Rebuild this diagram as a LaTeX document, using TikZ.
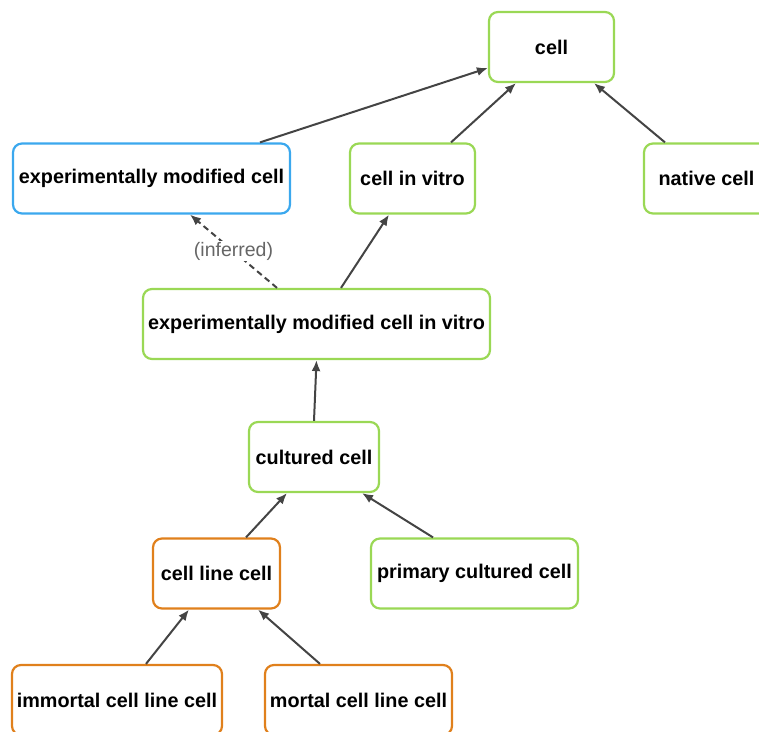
\documentclass[tikz,border=0pt]{standalone}
\usepackage{fontspec}
\setmainfont{Liberation Sans}
\usepackage{tikz}
\usetikzlibrary{arrows.meta}

\definecolor{termgreen}{HTML}{9AD855}
\definecolor{termblue}{HTML}{3BA8EE}
\definecolor{termorange}{HTML}{E0801C}
\definecolor{linkgray}{HTML}{444444}

\tikzset{
	term/.style={draw,rounded corners=9pt,line width=2.2pt,minimum height=70pt,
		inner sep=2pt,font=\fontsize{19.8}{22}\selectfont\bfseries,fill=white},
	green box/.style={term,draw=termgreen},
	blue box/.style={term,draw=termblue},
	orange box/.style={term,draw=termorange},
}

\begin{document}
\begin{tikzpicture}[x=1pt,y=-1pt,>/.tip={Latex[length=11pt,width=9pt]},
	every edge/.style={draw,linkgray,line width=2pt}]
	\useasboundingbox (0,0) rectangle (759,731);

	\draw (551.5,47) node (cell) [green box,minimum width=125] {cell};
	\draw (151.5,178.5) node (emc) [blue box,minimum width=277] {experimentally modified cell};
	\draw (412.5,178.5) node (civ) [green box,minimum width=125] {cell in vitro};
	\draw (706.5,178.5) node (native) [green box,minimum width=125] {native cell};
	\draw (316.5,324) node (emciv) [green box,minimum width=347] {experimentally modified cell in vitro};
	\draw (314,457) node (cultured) [green box,minimum width=130] {cultured cell};
	\draw (216.5,573.5) node (cellline) [orange box,minimum width=127] {cell line cell};
	\draw (474.5,573.5) node (primary) [green box,minimum width=207] {primary cultured cell};
	\draw (117,700) node (immortal) [orange box,minimum width=210] {immortal cell line cell};
	\draw (358.5,700) node (mortal) [orange box,minimum width=187] {mortal cell line cell};

	\path[->] ([xshift=108.5]emc.north) edge ([yshift=-21]cell.west);
	\path[->] ([xshift=38.5]civ.north) edge ([xshift=-35.5]cell.south);
	\path[->] ([xshift=-41.5]native.north) edge ([xshift=42.5]cell.south);
	\path[->] ([xshift=-39.5]emciv.north) edge [dash pattern=on 6pt off 4pt]
		node [fill=white,text=black!60,inner sep=1pt,font=\fontsize{19.5}{22}\selectfont] {(inferred)}
		([xshift=38.5]emc.south);
	\path[->] ([xshift=24.5]emciv.north) edge ([xshift=-23.5]civ.south);
	\path[->] (cultured.north) edge (emciv.south);
	\path[->] ([xshift=29.5]cellline.north) edge ([xshift=-27]cultured.south);
	\path[->] ([xshift=-41.5]primary.north) edge ([xshift=48]cultured.south);
	\path[->] ([xshift=29]immortal.north) edge ([xshift=-27.5]cellline.south);
	\path[->] ([xshift=-38.5]mortal.north) edge ([xshift=41.5]cellline.south);
\end{tikzpicture}
\end{document}
